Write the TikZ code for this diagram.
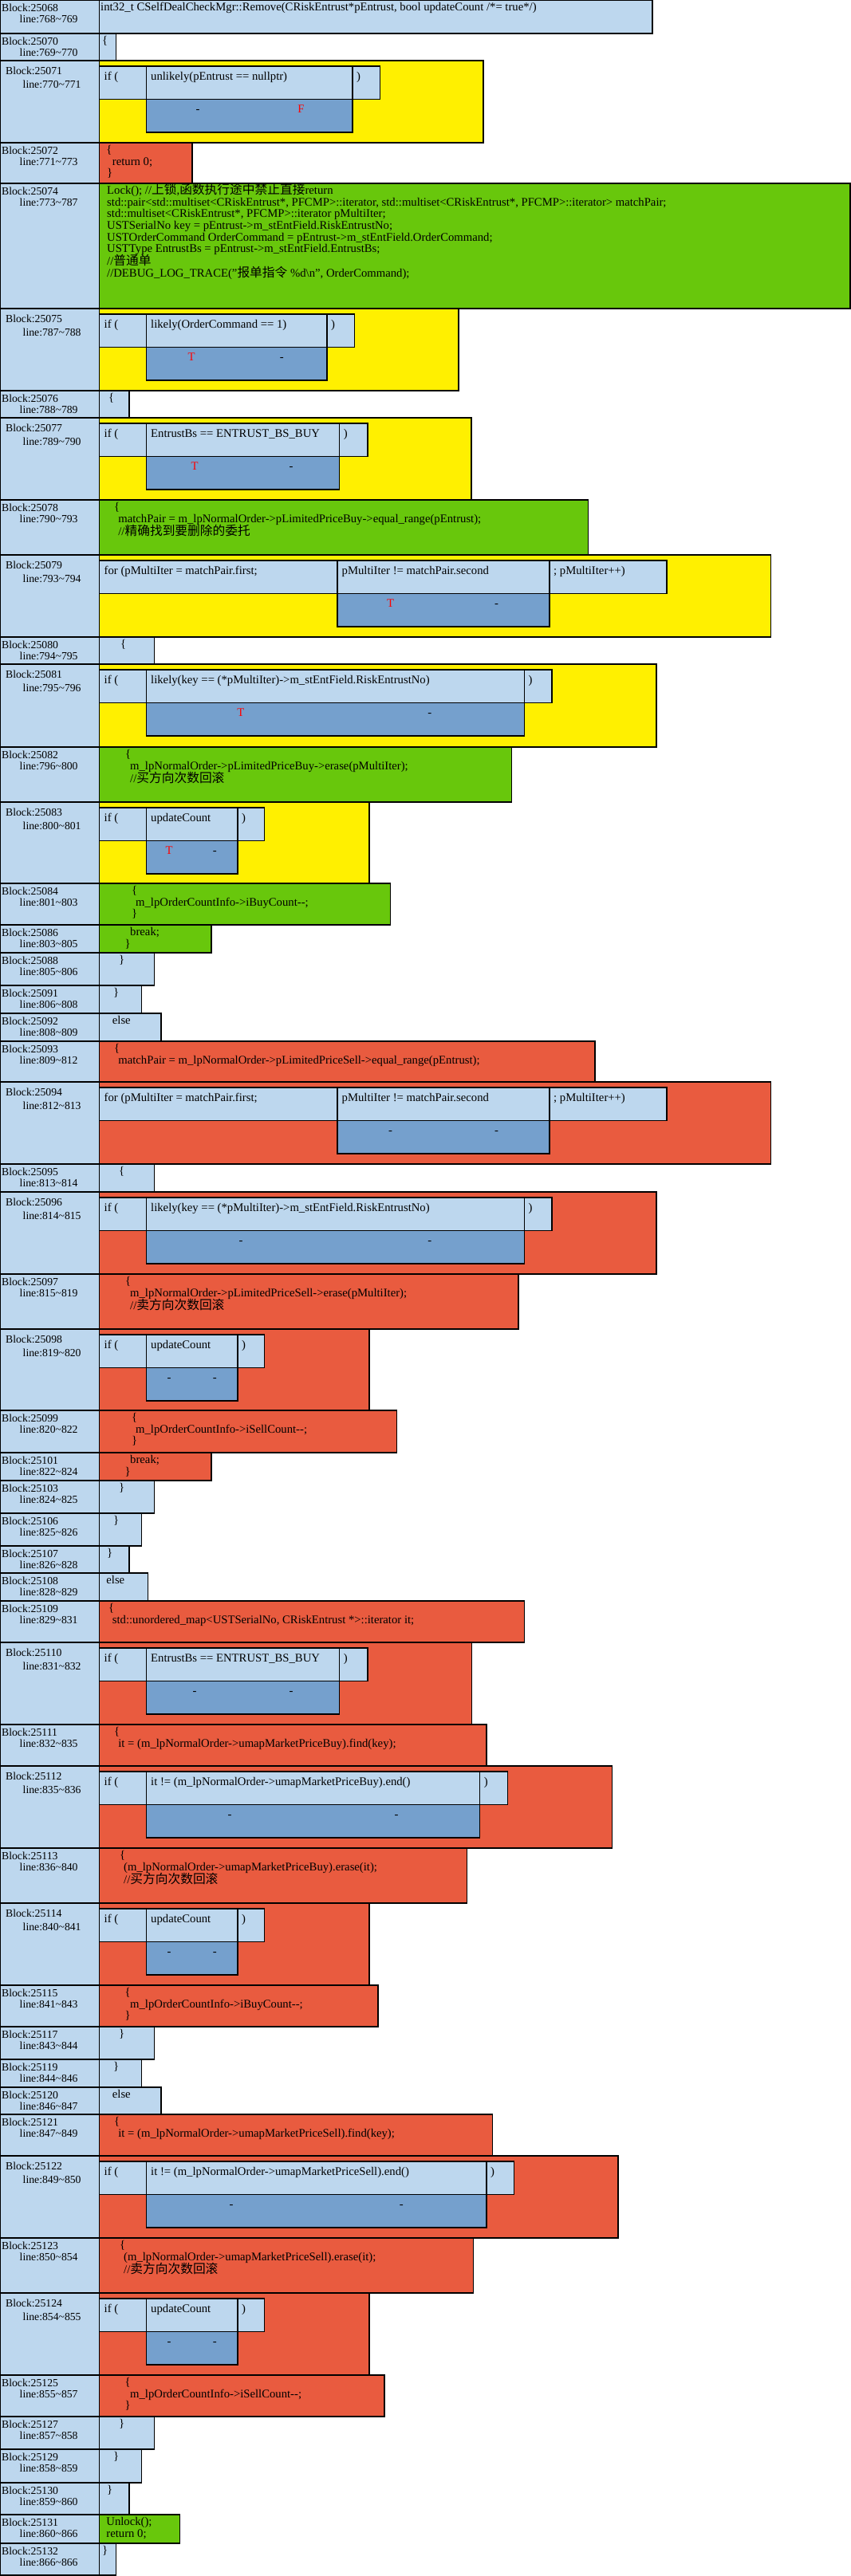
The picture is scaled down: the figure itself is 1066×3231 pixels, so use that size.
\documentclass[tikz,border=0pt]{standalone}
\usepackage{fontspec}
\setmainfont{Liberation Serif}
\newfontfamily\cjkf[Scale=1.07]{Noto Sans CJK SC}
\definecolor{lb}{HTML}{BDD7EE}
\definecolor{db}{HTML}{75A0CD}
\definecolor{ye}{HTML}{FFF000}
\definecolor{gr}{HTML}{68C70C}
\definecolor{rd}{HTML}{E95B3F}
\tikzset{
  bx/.style={draw=black, line width=1.5pt},
  lbl/.style={anchor=north west, inner sep=0pt, align=left, font={\fontsize{13.7}{14.5}\selectfont\lineskiplimit=-100pt}},
  ilbl/.style={anchor=north west, inner sep=0pt, align=left, font={\fontsize{13.7}{17}\selectfont\lineskiplimit=-100pt}},
  code/.style={anchor=north west, inner sep=0pt, align=left, font={\fontsize{14.7}{14.6}\selectfont\lineskiplimit=-100pt}},
  ctext/.style={anchor=base west, inner sep=0pt, font={\fontsize{14.7}{14.6}\selectfont}},
}
% simple row: name top bottom right color num a b
\newcommand\mySrow[8]{%
  \draw[bx,fill=lb] (0,#2) rectangle (124.4,#3);
  \draw[bx,fill=#5] (124.4,#2) rectangle (#4,#3);
  \node[lbl] (#1-l) at (2,#2-6) {\rule{0pt}{20pt}Block:#6\\\hspace*{22.5pt}line:#7\textasciitilde #8};
}
% if/for row: name top bottom right color num a b
\newcommand\myIrow[8]{%
  \draw[bx,fill=lb] (0,#2) rectangle (124.4,#3);
  \draw[bx,fill=#5] (124.4,#2) rectangle (#4,#3);
  \node[ilbl] (#1-l) at (7,#2-2.7) {\rule{0pt}{20pt}Block:#6\\\hspace*{21.5pt}line:#7\textasciitilde #8};
}
% header cells: name top c1 c2 c3 t1 t2 t3
\newcommand\myCells[8]{%
  \draw[bx,fill=lb] (124.4,#2+7) rectangle (#3,#2+48.5);
  \draw[bx,fill=lb] (#3,#2+7) rectangle (#4,#2+48.5);
  \draw[bx,fill=lb] (#4,#2+7) rectangle (#5,#2+48.5);
  \node[ctext] (#1-c1) at (130.5,#2+24) {#6};
  \node[ctext] (#1-c2) at (#3+5.5,#2+24) {#7};
  \node[ctext] (#1-c3) at (#4+5,#2+24) {#8};
}
% dark box: name top left right lab1 lab2
\newcommand\myDark[6]{%
  \draw[bx,fill=db] (#3,#2+48.5) rectangle (#4,#2+90);
  \node[ctext,anchor=base] (#1-d1) at ({#3+0.25*(#4-#3)},#2+65) {#5};
  \node[ctext,anchor=base] (#1-d2) at ({#3+0.75*(#4-#3)},#2+65) {#6};
}
% code text: name top content
\newcommand\myCode[3]{%
  \node[code] (#1-t) at (126,#2-6.5) {\rule{0pt}{20pt}#3};
}
\newcommand\myT{\textcolor{red}{T}}
\newcommand\myF{\textcolor{red}{F}}
\begin{document}
\begin{tikzpicture}[x=1pt,y=-1pt]
\useasboundingbox (0,0) rectangle (1066,3231);

\mySrow{b68}{0}{42}{818}{lb}{25068}{768}{769}
\myCode{b68}{0}{int32\_t CSelfDealCheckMgr::Remove(CRiskEntrust*pEntrust, bool updateCount /*= true*/)}

\mySrow{b70}{42}{76}{145.5}{lb}{25070}{769}{770}
\myCode{b70}{42}{\hspace*{1.8pt}\{}

\myIrow{b71}{76}{179}{606}{ye}{25071}{770}{771}
\myCells{b71}{76}{183.5}{442}{476.5}{if (}{unlikely(pEntrust == nullptr)}{)}
\myDark{b71}{76}{183.5}{442}{-}{\myF}

\mySrow{b72}{179}{230}{241}{rd}{25072}{771}{773}
\myCode{b72}{179}{\hspace*{7.2pt}\{\\\hspace*{14.7pt}return 0;\\\hspace*{8pt}\}}

\mySrow{b74}{230}{387}{1066}{gr}{25074}{773}{787}
\myCode{b74}{230}{\hspace*{8pt}Lock(); //{\cjkf 上锁},{\cjkf 函数执行途中禁止直接}return\\%
\hspace*{8pt}std::pair<std::multiset<CRiskEntrust*, PFCMP>::iterator, std::multiset<CRiskEntrust*, PFCMP>::iterator> matchPair;\\%
\hspace*{8pt}std::multiset<CRiskEntrust*, PFCMP>::iterator pMultiIter;\\%
\hspace*{8pt}USTSerialNo key = pEntrust->m\_stEntField.RiskEntrustNo;\\%
\hspace*{8pt}USTOrderCommand OrderCommand = pEntrust->m\_stEntField.OrderCommand;\\%
\hspace*{8pt}USTType EntrustBs = pEntrust->m\_stEntField.EntrustBs;\\[1.5pt]%
\hspace*{8pt}//{\cjkf 普通单}\\%
\hspace*{8pt}//DEBUG\_LOG\_TRACE("{\cjkf 报单指令} \%d\textbackslash n", OrderCommand);}

\myIrow{b75}{387}{490}{575}{ye}{25075}{787}{788}
\myCells{b75}{387}{183.5}{410}{444.6}{if (}{likely(OrderCommand == 1)}{)}
\myDark{b75}{387}{183.5}{410}{\myT}{-}

\mySrow{b76}{490}{524}{162}{lb}{25076}{788}{789}
\myCode{b76}{490}{\hspace*{10pt}\{}

\myIrow{b77}{524}{627}{591}{ye}{25077}{789}{790}
\myCells{b77}{524}{183.5}{425.6}{461}{if (}{EntrustBs == ENTRUST\_BS\_BUY}{)}
\myDark{b77}{524}{183.5}{425.6}{\myT}{-}

\mySrow{b78}{627}{696}{737.6}{gr}{25078}{790}{793}
\myCode{b78}{627}{\hspace*{16.8pt}\{\\\hspace*{22.2pt}matchPair = m\_lpNormalOrder->pLimitedPriceBuy->equal\_range(pEntrust);\\[2pt]\hspace*{22.2pt}//{\cjkf 精确找到要删除的委托}}

\myIrow{b79}{696}{799}{966.7}{ye}{25079}{793}{794}
\myCells{b79}{696}{423}{689}{836}{for (pMultiIter = matchPair.first;}{pMultiIter != matchPair.second}{; pMultiIter++)}
\myDark{b79}{696}{423}{689}{\myT}{-}

\mySrow{b80}{799}{833}{193.7}{lb}{25080}{794}{795}
\myCode{b80}{799}{\hspace*{25pt}\{}

\myIrow{b81}{833}{937}{823}{ye}{25081}{795}{796}
\myCells{b81}{833}{183.5}{657.4}{692}{if (}{likely(key == (*pMultiIter)->m\_stEntField.RiskEntrustNo)}{)}
\myDark{b81}{833}{183.5}{657.4}{\myT}{-}

\mySrow{b82}{937}{1006}{641.7}{gr}{25082}{796}{800}
\myCode{b82}{937}{\hspace*{31pt}\{\\\hspace*{37pt}m\_lpNormalOrder->pLimitedPriceBuy->erase(pMultiIter);\\[1.5pt]\hspace*{37pt}//{\cjkf 买方向次数回滚}}

\myIrow{b83}{1006}{1108}{463}{ye}{25083}{800}{801}
\myCells{b83}{1006}{183.5}{297.8}{331.7}{if (}{updateCount}{)}
\myDark{b83}{1006}{183.5}{297.8}{\myT}{-}

\mySrow{b84}{1108}{1160}{489.5}{gr}{25084}{801}{803}
\myCode{b84}{1108}{\hspace*{39pt}\{\\\hspace*{44pt}m\_lpOrderCountInfo->iBuyCount-{}-;\\\hspace*{39pt}\}}

\mySrow{b86}{1160}{1195}{265}{gr}{25086}{803}{805}
\myCode{b86}{1160}{\hspace*{37pt}break;\\\hspace*{30.4pt}\}}

\mySrow{b88}{1195}{1236}{193.7}{lb}{25088}{805}{806}
\myCode{b88}{1195}{\hspace*{23pt}\}}

\mySrow{b91}{1236}{1271}{177.4}{lb}{25091}{806}{808}
\myCode{b91}{1236}{\hspace*{16pt}\}}

\mySrow{b92}{1271}{1306}{201.9}{lb}{25092}{808}{809}
\myCode{b92}{1271}{\hspace*{14.7pt}else}

\mySrow{b93}{1306}{1357}{745.8}{rd}{25093}{809}{812}
\myCode{b93}{1306}{\hspace*{16.8pt}\{\\\hspace*{22.2pt}matchPair = m\_lpNormalOrder->pLimitedPriceSell->equal\_range(pEntrust);}

\myIrow{b94}{1357}{1460}{966.7}{rd}{25094}{812}{813}
\myCells{b94}{1357}{423}{689}{836}{for (pMultiIter = matchPair.first;}{pMultiIter != matchPair.second}{; pMultiIter++)}
\myDark{b94}{1357}{423}{689}{-}{-}

\mySrow{b95}{1460}{1495}{193.7}{lb}{25095}{813}{814}
\myCode{b95}{1460}{\hspace*{23pt}\{}

\myIrow{b96}{1495}{1598}{823}{rd}{25096}{814}{815}
\myCells{b96}{1495}{183.5}{657.4}{692}{if (}{likely(key == (*pMultiIter)->m\_stEntField.RiskEntrustNo)}{)}
\myDark{b96}{1495}{183.5}{657.4}{-}{-}

\mySrow{b97}{1598}{1667}{650}{rd}{25097}{815}{819}
\myCode{b97}{1598}{\hspace*{31pt}\{\\\hspace*{37pt}m\_lpNormalOrder->pLimitedPriceSell->erase(pMultiIter);\\[1.5pt]\hspace*{37pt}//{\cjkf 卖方向次数回滚}}

\myIrow{b98}{1667}{1769}{463}{rd}{25098}{819}{820}
\myCells{b98}{1667}{183.5}{297.8}{331.7}{if (}{updateCount}{)}
\myDark{b98}{1667}{183.5}{297.8}{-}{-}

\mySrow{b99}{1769}{1822}{497.6}{rd}{25099}{820}{822}
\myCode{b99}{1769}{\hspace*{39pt}\{\\\hspace*{44pt}m\_lpOrderCountInfo->iSellCount-{}-;\\\hspace*{39pt}\}}

\mySrow{b101}{1822}{1857}{265}{rd}{25101}{822}{824}
\myCode{b101}{1822}{\hspace*{37pt}break;\\\hspace*{30.4pt}\}}

\mySrow{b103}{1857}{1898}{193.7}{lb}{25103}{824}{825}
\myCode{b103}{1857}{\hspace*{23pt}\}}

\mySrow{b106}{1898}{1939}{177.4}{lb}{25106}{825}{826}
\myCode{b106}{1898}{\hspace*{16pt}\}}

\mySrow{b107}{1939}{1973}{161.8}{lb}{25107}{826}{828}
\myCode{b107}{1939}{\hspace*{8pt}\}}

\mySrow{b108}{1973}{2008}{185.6}{lb}{25108}{828}{829}
\myCode{b108}{1973}{\hspace*{7.2pt}else}

\mySrow{b109}{2008}{2060}{657.4}{rd}{25109}{829}{831}
\myCode{b109}{2008}{\hspace*{10pt}\{\\\hspace*{14.7pt}std::unordered\_map<USTSerialNo, CRiskEntrust *>::iterator it;}

\myIrow{b110}{2060}{2163}{591.4}{rd}{25110}{831}{832}
\myCells{b110}{2060}{183.5}{425.6}{461}{if (}{EntrustBs == ENTRUST\_BS\_BUY}{)}
\myDark{b110}{2060}{183.5}{425.6}{-}{-}

\mySrow{b111}{2163}{2215}{609.8}{rd}{25111}{832}{835}
\myCode{b111}{2163}{\hspace*{16.8pt}\{\\\hspace*{22.2pt}it = (m\_lpNormalOrder->umapMarketPriceBuy).find(key);}

\myIrow{b112}{2215}{2318}{767.5}{rd}{25112}{835}{836}
\myCells{b112}{2215}{183.5}{601.6}{636.3}{if (}{it != (m\_lpNormalOrder->umapMarketPriceBuy).end()}{)}
\myDark{b112}{2215}{183.5}{601.6}{-}{-}

\mySrow{b113}{2318}{2387}{585.3}{rd}{25113}{836}{840}
\myCode{b113}{2318}{\hspace*{24pt}\{\\\hspace*{29pt}(m\_lpNormalOrder->umapMarketPriceBuy).erase(it);\\[1.5pt]\hspace*{29pt}//{\cjkf 买方向次数回滚}}

\myIrow{b114}{2387}{2490}{463}{rd}{25114}{840}{841}
\myCells{b114}{2387}{183.5}{297.8}{331.7}{if (}{updateCount}{)}
\myDark{b114}{2387}{183.5}{297.8}{-}{-}

\mySrow{b115}{2490}{2542}{473.8}{rd}{25115}{841}{843}
\myCode{b115}{2490}{\hspace*{30.4pt}\{\\\hspace*{37pt}m\_lpOrderCountInfo->iBuyCount-{}-;\\\hspace*{30.4pt}\}}

\mySrow{b117}{2542}{2583}{193.7}{lb}{25117}{843}{844}
\myCode{b117}{2542}{\hspace*{23pt}\}}

\mySrow{b119}{2583}{2618}{177.4}{lb}{25119}{844}{846}
\myCode{b119}{2583}{\hspace*{16pt}\}}

\mySrow{b120}{2618}{2652}{201.9}{lb}{25120}{846}{847}
\myCode{b120}{2618}{\hspace*{14.7pt}else}

\mySrow{b121}{2652}{2704}{617.3}{rd}{25121}{847}{849}
\myCode{b121}{2652}{\hspace*{16.8pt}\{\\\hspace*{22.2pt}it = (m\_lpNormalOrder->umapMarketPriceSell).find(key);}

\myIrow{b122}{2704}{2807}{775}{rd}{25122}{849}{850}
\myCells{b122}{2704}{183.5}{609.8}{644.5}{if (}{it != (m\_lpNormalOrder->umapMarketPriceSell).end()}{)}
\myDark{b122}{2704}{183.5}{609.8}{-}{-}

\mySrow{b123}{2807}{2876}{593.5}{rd}{25123}{850}{854}
\myCode{b123}{2807}{\hspace*{24pt}\{\\\hspace*{29pt}(m\_lpNormalOrder->umapMarketPriceSell).erase(it);\\[1.5pt]\hspace*{29pt}//{\cjkf 卖方向次数回滚}}

\myIrow{b124}{2876}{2979}{463}{rd}{25124}{854}{855}
\myCells{b124}{2876}{183.5}{297.8}{331.7}{if (}{updateCount}{)}
\myDark{b124}{2876}{183.5}{297.8}{-}{-}

\mySrow{b125}{2979}{3031}{482}{rd}{25125}{855}{857}
\myCode{b125}{2979}{\hspace*{30.4pt}\{\\\hspace*{37pt}m\_lpOrderCountInfo->iSellCount-{}-;\\\hspace*{30.4pt}\}}

\mySrow{b127}{3031}{3072}{193.7}{lb}{25127}{857}{858}
\myCode{b127}{3031}{\hspace*{23pt}\}}

\mySrow{b129}{3072}{3114}{177.4}{lb}{25129}{858}{859}
\myCode{b129}{3072}{\hspace*{16pt}\}}

\mySrow{b130}{3114}{3154}{161.8}{lb}{25130}{859}{860}
\myCode{b130}{3114}{\hspace*{8pt}\}}

\mySrow{b131}{3154}{3190}{225.7}{gr}{25131}{860}{866}
\myCode{b131}{3154}{\hspace*{7.2pt}Unlock();\\\hspace*{7.2pt}return 0;}

\mySrow{b132}{3190}{3230}{145.5}{lb}{25132}{866}{866}
\myCode{b132}{3190}{\hspace*{1.8pt}\}}

\end{tikzpicture}
\end{document}
